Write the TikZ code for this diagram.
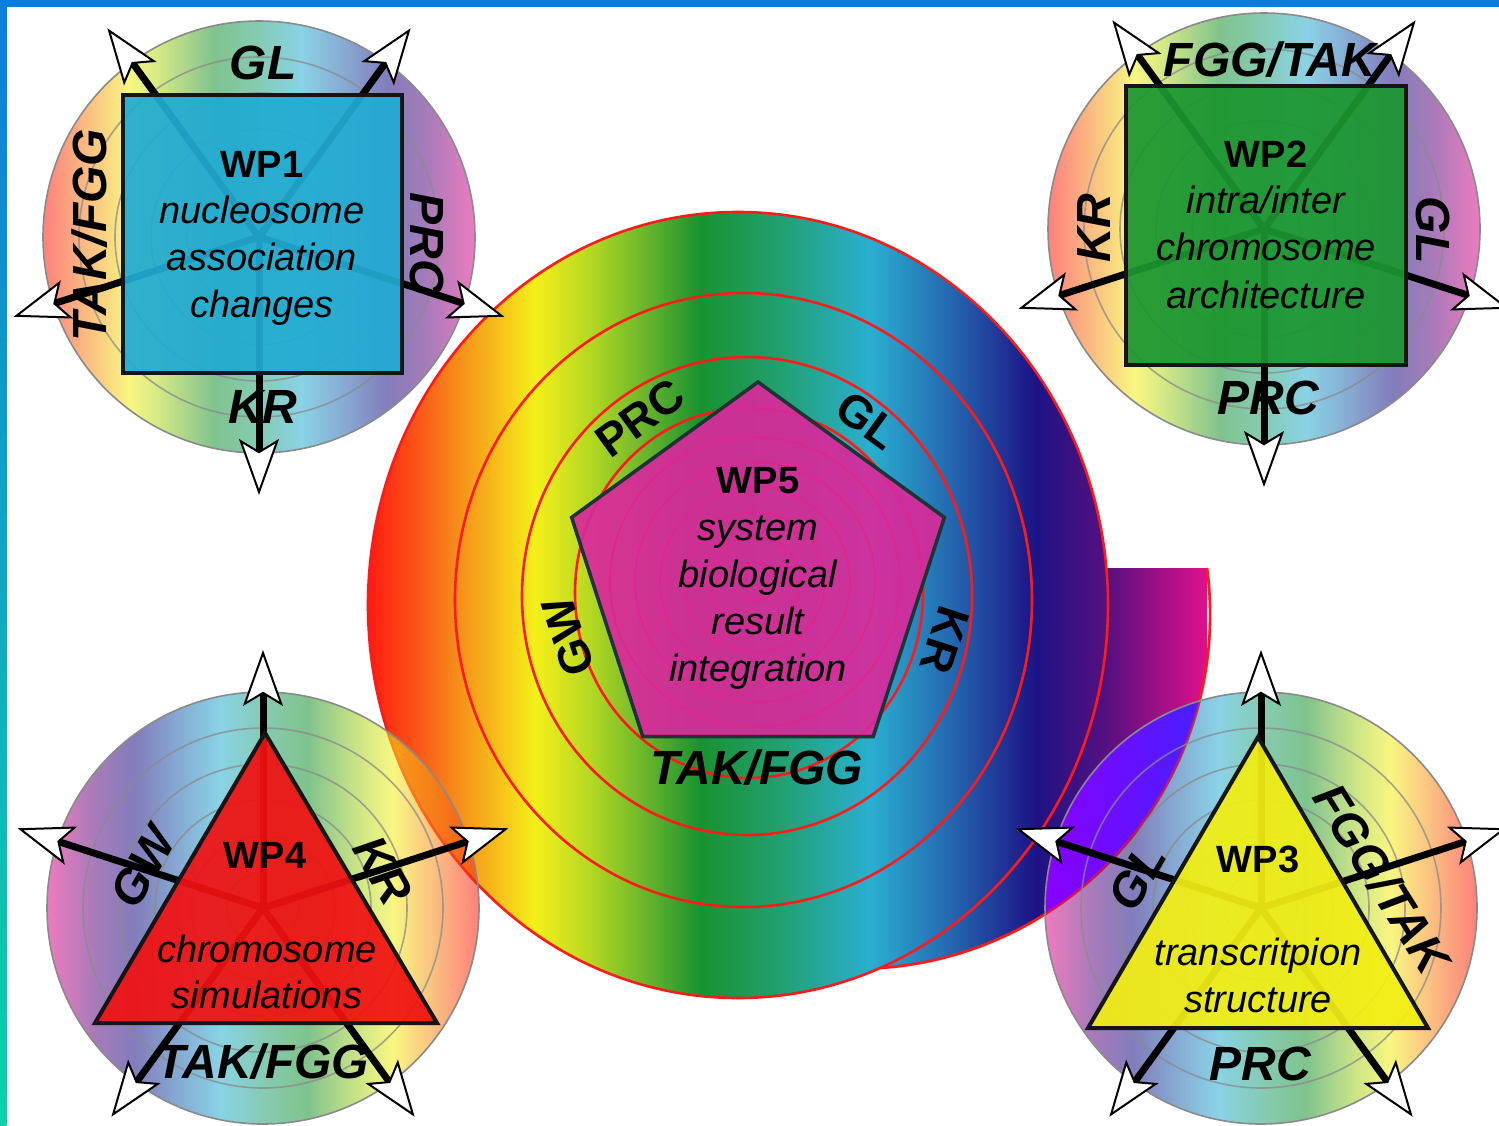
\documentclass[tikz,border=0pt]{standalone}
\usepackage{fontspec}
\setmainfont{Liberation Sans}
\usetikzlibrary{arrows.meta}
\definecolor{g0}{HTML}{FF1A10}
\definecolor{g1}{HTML}{F95A18}
\definecolor{g2}{HTML}{F68A1A}
\definecolor{g3}{HTML}{F6C21A}
\definecolor{g4}{HTML}{F4F01A}
\definecolor{g5}{HTML}{B5D822}
\definecolor{g6}{HTML}{62B22C}
\definecolor{g7}{HTML}{189230}
\definecolor{g8}{HTML}{22A070}
\definecolor{g9}{HTML}{2AAFD0}
\definecolor{g10}{HTML}{2468B0}
\definecolor{g11}{HTML}{1C1385}
\definecolor{g12}{HTML}{581080}
\definecolor{g13}{HTML}{E0108C}
\definecolor{framecol}{HTML}{0A7EDF}
\definecolor{framemid}{HTML}{14AEE0}
\definecolor{framebot}{HTML}{0CD2A8}
\definecolor{wpA}{HTML}{22ABD2}
\definecolor{wpB}{HTML}{1C9630}
\definecolor{wpC}{HTML}{F2EE14}
\definecolor{wpD}{HTML}{F01212}
\definecolor{wpE}{HTML}{D82A9A}
\definecolor{vioA}{HTML}{8A00FF}
\definecolor{vioB}{HTML}{4520FF}
\definecolor{ringgray}{HTML}{8A8A8A}
\definecolor{redline}{HTML}{FF1A1A}
\definecolor{edgecol}{HTML}{151515}
\definecolor{pentedge}{HTML}{1E3434}
\pgfdeclarehorizontalshading{rainbow}{100bp}{color(0bp)=(g0); color(25bp)=(g0); color(28.10bp)=(g1); color(30.18bp)=(g2); color(32.87bp)=(g3); color(34.95bp)=(g4); color(38.23bp)=(g5); color(41.81bp)=(g6); color(44.79bp)=(g7); color(49.55bp)=(g8); color(54.92bp)=(g9); color(59.68bp)=(g10); color(64.75bp)=(g11); color(69.10bp)=(g12); color(75bp)=(g13); color(100bp)=(g13)}
\tikzset{
  redring/.style={draw=redline, line width=2.6pt},
  ringline/.style={draw=ringgray, line width=1.6pt},
  wparrow/.style={line width=7pt, -{Stealth[length=56pt, width=40pt, inset=12pt, line width=2pt, fill=white]}},
  shapeline/.style={draw=edgecol, line width=4pt, line join=miter},
  wptitle/.style={font=\fontsize{38}{40}\selectfont\bfseries, anchor=base, inner sep=0pt},
  wpdesc/.style={font=\fontsize{38}{40}\selectfont\itshape, anchor=base, inner sep=0pt},
  lab/.style={font=\fontsize{48}{50}\selectfont\bfseries\itshape, inner sep=0pt},
  plab/.style={font=\fontsize{46}{48}\selectfont\bfseries, inner sep=0pt}
}
\begin{document}
\begin{tikzpicture}[x=1pt,y=-1pt]
\useasboundingbox (0,0) rectangle (1499,1125);
\fill[white] (0,0) rectangle (1499,1125);
% frame
\fill[framecol] (0,0) rectangle (1499,6.5);
\shade[top color=framecol, middle color=framemid, bottom color=framebot] (0,0) rectangle (6.5,1125);

% central rainbow spiral: extension
\begin{scope}
  \clip (1100,568) -- (1207,568) arc[start angle=-7.6, end angle=86.1, radius=354] -- (738,605) -- cycle;
  \shade[shading=rainbow] (368,150) rectangle (1207,1050);
\end{scope}
% main disc
\begin{scope}
  \clip (738,605) ellipse [x radius=370, y radius=393];
  \shade[shading=rainbow] (368,150) rectangle (1207,1050);
\end{scope}
\draw[redring] (1207,568) arc[start angle=-7.6, end angle=86.1, radius=354];
\draw[redring] (738,605) ellipse [x radius=370, y radius=393];
\draw[redring] (743.5,600) ellipse [x radius=288.5, y radius=307];
\draw[redring] (747,596) ellipse [x radius=225, y radius=239];
\draw[redring] (749,593) ellipse [x radius=174, y radius=185];
\foreach \r in {20,45,70,95,120,145} \draw[redline, line width=2pt] (755,582) circle (\r);

% WP discs
\coordinate (w1c) at (259,237);
\coordinate (w2c) at (1264,229);
\coordinate (w4c) at (263,908);
\coordinate (w3c) at (1261,908);
\shade[shading=rainbow, opacity=0.55] (w1c) circle (216);
\shade[shading=rainbow, opacity=0.55] (w2c) circle (216);
\shade[shading=rainbow, shading angle=180, opacity=0.55] (w4c) circle (216);
\shade[shading=rainbow, shading angle=180, opacity=0.55] (w3c) circle (216);
\begin{scope}
  \clip (w3c) circle (216);
  \clip (1100,568) -- (1207,568) arc[start angle=-7.6, end angle=86.1, radius=354] -- (738,605) -- cycle;
  \shade[left color=vioA, right color=vioB] (1040,560) rectangle (1210,1000);
\end{scope}
\draw[redline, line width=2.6pt, opacity=0.5] (1207,568) arc[start angle=-7.6, end angle=86.1, radius=354];
\foreach \c in {w1c,w2c,w3c,w4c}{
  \draw[ringline] (\c) circle (216);
  \foreach \r in {180,144,108,72,36} \draw[ringline, opacity=0.75] (\c) circle (\r);
}

% arrows
\foreach \a [count=\i] in {90,18,-54,-126,162}{
  \path (w1c) ++(\a:258) coordinate (w1t\i);
  \draw[wparrow] (w1c) -- (w1t\i);
  \path (w2c) ++(\a:258) coordinate (w2t\i);
  \draw[wparrow] (w2c) -- (w2t\i);
}
\foreach \a [count=\i] in {-90,-162,126,54,-18}{
  \path (w4c) ++(\a:258) coordinate (w4t\i);
  \draw[wparrow] (w4c) -- (w4t\i);
  \path (w3c) ++(\a:258) coordinate (w3t\i);
  \draw[wparrow] (w3c) -- (w3t\i);
}

% shapes
\draw[shapeline, fill=wpA, fill opacity=0.93] (123,95) rectangle (402,373);
\draw[shapeline, fill=wpB, fill opacity=0.93] (1126,86) rectangle (1406,365);
\draw[shapeline, fill=wpD, fill opacity=0.93] (265,733) -- (95,1023) -- (437,1023) -- cycle;
\draw[shapeline, fill=wpC, fill opacity=0.93] (1258,737) -- (1088,1028) -- (1428,1028) -- cycle;
\draw[draw=pentedge, line width=3.5pt, line join=miter, fill=wpE, fill opacity=0.93]
  (758,382) -- (944.4,517.4) -- (873.2,736.6) -- (642.8,736.6) -- (571.6,517.4) -- cycle;

% WP1 text
\node[wptitle] (t1) at (262,177) {WP1};
\node[wpdesc] (d1a) at (262,223) {nucleosome};
\node[wpdesc] (d1b) at (262,270) {association};
\node[wpdesc] (d1c) at (262,317) {changes};
\node[lab] (l1a) at (263,63) {GL};
\node[lab] (l1b) at (263,407) {KR};
\node[lab, rotate=90] (l1c) at (90,235) {TAK/FGG};
\node[lab, rotate=-90] (l1d) at (427,243) {PRC};
% WP2 text
\node[wptitle] (t2) at (1266,167) {WP2};
\node[wpdesc] (d2a) at (1266,213) {intra/inter};
\node[wpdesc] (d2b) at (1266,260) {chromosome};
\node[wpdesc] (d2c) at (1266,308) {architecture};
\node[lab] (l2a) at (1270,60) {FGG/TAK};
\node[lab, rotate=90] (l2b) at (1094,228) {KR};
\node[lab, rotate=-90] (l2c) at (1433,230) {GL};
\node[lab] (l2d) at (1268,398) {PRC};
% WP4 text
\node[wptitle] (t4) at (265,868) {WP4};
\node[wpdesc] (d4a) at (267,962) {chromosome};
\node[wpdesc] (d4b) at (267,1008) {simulations};
\node[lab, rotate=60] (l4a) at (143,867) {GW};
\node[lab, rotate=-60] (l4b) at (383,870) {KR};
\node[lab] (l4c) at (263,1062) {TAK/FGG};
% WP3 text
\node[wptitle] (t3) at (1258,872) {WP3};
\node[wpdesc] (d3a) at (1258,965) {transcritpion};
\node[wpdesc] (d3b) at (1258,1012) {structure};
\node[lab, rotate=60] (l3a) at (1137,877) {GL};
\node[lab, rotate=-58] (l3b) at (1382,879) {FGG/TAK};
\node[lab] (l3c) at (1260,1064) {PRC};
% WP5 text
\node[wptitle] (t5) at (758,493) {WP5};
\node[wpdesc] (d5a) at (758,540) {system};
\node[wpdesc] (d5b) at (758,587) {biological};
\node[wpdesc] (d5c) at (758,634) {result};
\node[wpdesc] (d5d) at (758,681) {integration};
\node[plab, rotate=36] (l5a) at (640,418) {PRC};
\node[plab, rotate=-36] (l5b) at (868,420) {GL};
\node[plab, rotate=108] (l5c) at (568,637) {GW};
\node[plab, rotate=-108] (l5d) at (945,640) {KR};
\node[lab] (l5e) at (757,768) {TAK/FGG};
\end{tikzpicture}
\end{document}
